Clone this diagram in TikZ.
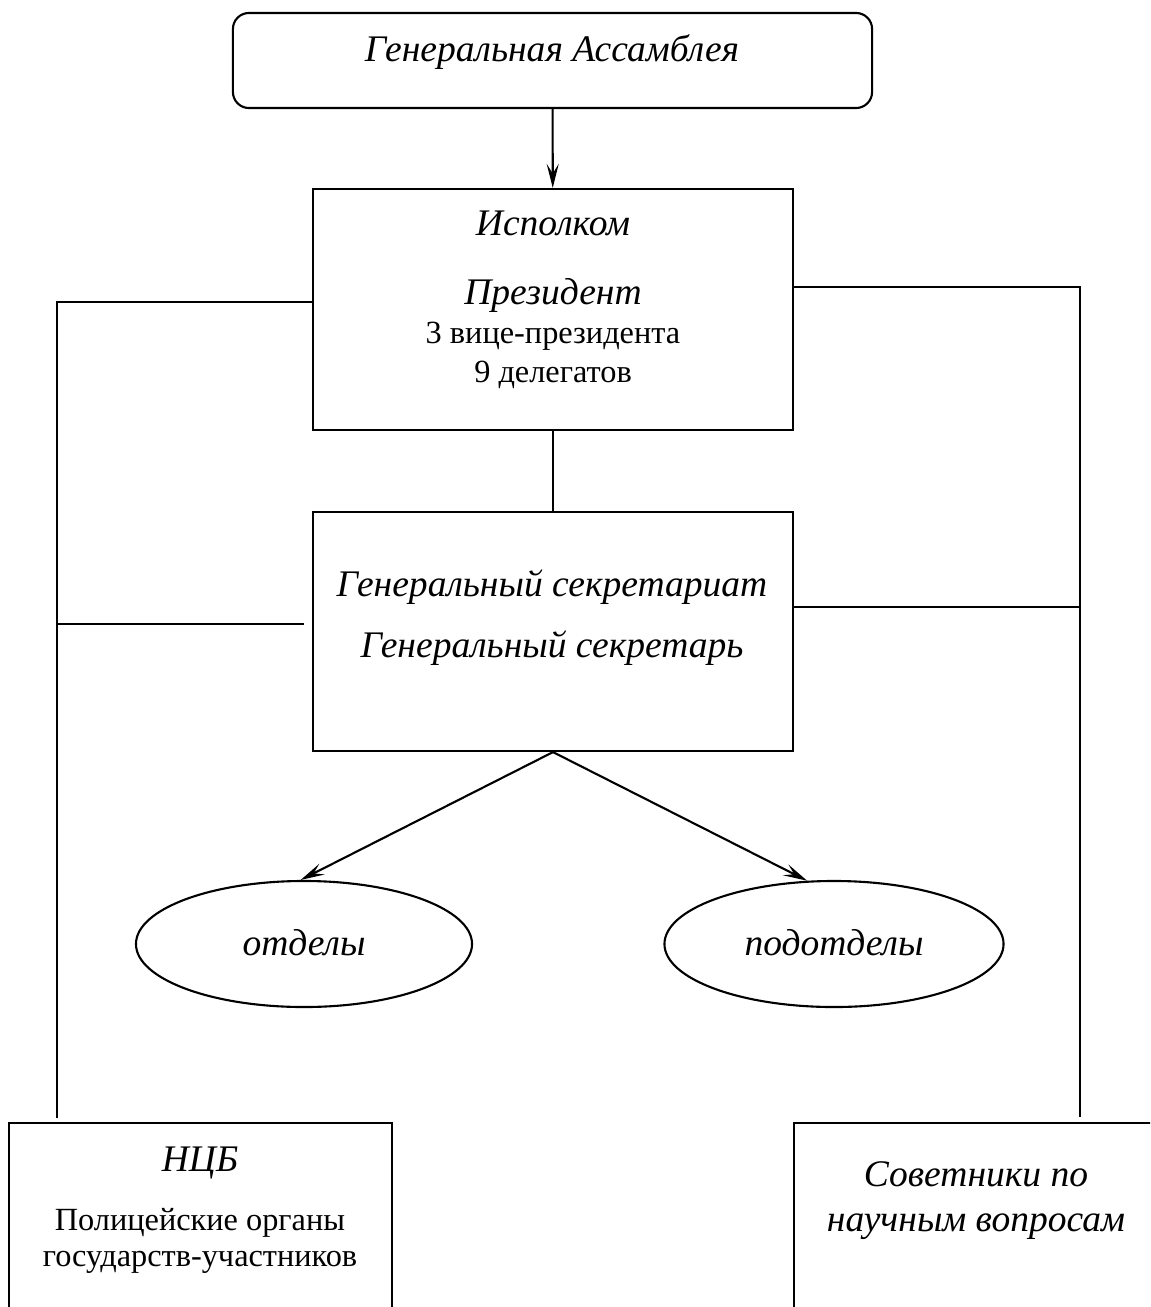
\documentclass[tikz,border=0pt]{standalone}
\usepackage{fontspec}
\setmainfont{Liberation Serif}
\usetikzlibrary{shapes.geometric,arrows.meta,positioning}

\tikzset{
  frame/.style={draw, rectangle, line width=1.5pt, inner sep=0pt},
  oval/.style={draw, ellipse, line width=1.5pt, inner sep=0pt, minimum height=3.15cm,
    font=\fontsize{26.7}{30}\selectfont\itshape, text height=23pt, text depth=6.5pt},
  ittext/.style={font=\fontsize{26.7}{30}\selectfont\itshape, text height=22.5pt, text depth=6.5pt, inner sep=0pt},
  rmtext/.style={font=\fontsize{23}{27}\selectfont, text height=20pt, text depth=5.5pt, inner sep=0pt},
  link/.style={line width=1.5pt},
  arr/.style={link, -{Stealth[length=0.6cm, width=0.3cm, inset=0.24cm]}}
}

\begin{document}
\begin{tikzpicture}[x=0.025cm, y=-0.025cm]
\useasboundingbox (0,0) rectangle (1150,1307);
\clip (0,0) rectangle (1150,1307);

% boxes
\node[frame, rounded corners=0.4cm, minimum width=15.975cm, minimum height=2.375cm] (ga) at (552.5,60.5) {};
\node[frame, minimum width=12cm, minimum height=6.025cm] (isp) at (553,309.5) {};
\node[frame, minimum width=12cm, minimum height=5.975cm] (sec) at (553,631.5) {};
\node[oval, minimum width=8.4cm] (otd) at (304,944) {отделы};
\node[oval, minimum width=8.475cm] (pod) at (834,944) {подотделы};
\node[frame, minimum width=9.575cm, minimum height=6cm, anchor=north] (ncb) at (200.5,1122) {};
\node[frame, minimum width=9.5cm, minimum height=6cm, anchor=north west] (sov) at (793,1122) {};

% texts
\node[ittext] (gat) at (552,50) {Генеральная Ассамблея};
\node[ittext] (ispt) at (553,224) {Исполком};
\node[ittext] (prs) at (553,293) {Президент};
\node[rmtext] (vp) at (553,333) {3 вице-президента};
\node[rmtext] (dlg) at (553,372) {9 делегатов};
\node[ittext] (sect) at (552,585) {Генеральный секретариат};
\node[ittext] (gs) at (552,646) {Генеральный секретарь};
\node[ittext] (ncbt) at (200,1160) {НЦБ};
\node[rmtext] (pol) at (200,1220) {Полицейские органы};
\node[rmtext] (gu) at (200,1256) {государств-участников};
\node[ittext] (sovt) at (976,1175) {Советники по};
\node[ittext] (nv) at (976,1220) {научным вопросам};

% side lines
\coordinate (lt) at (57,302);
\coordinate (lm) at (57,624);
\coordinate (lme) at (304,624);
\coordinate (lb) at (57,1118);
\coordinate (rt) at (1080,287);
\coordinate (rm) at (1080,607);
\coordinate (rb) at (1080,1117);

\draw[arr] (ga) -- (isp);
\draw[link] (isp) -- (sec);
\draw[arr] (sec.south) -- (otd.93);
\draw[arr] (sec.south) -- (pod.113);
\draw[link] (isp.west |- lt) -- (lt) -- (lb);
\draw[link] (lm) -- (lme);
\draw[link] (isp.east |- rt) -- (rt) -- (rb);
\draw[link] (sec.east |- rm) -- (rm);
\end{tikzpicture}
\end{document}
